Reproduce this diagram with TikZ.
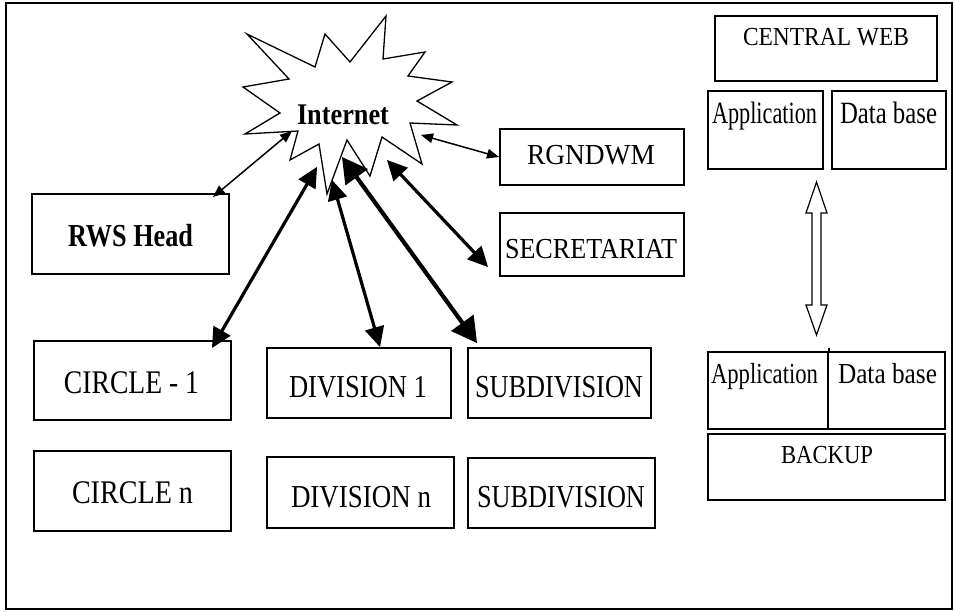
\documentclass[tikz,border=0pt]{standalone}
\usepackage{fontspec}
\setmainfont{Liberation Serif}
\usepackage{graphicx}
\usetikzlibrary{calc}
\newcommand{\lbl}[3]{\fontsize{#1}{#1}\selectfont\resizebox{#2pt}{\height}{#3}}
% double-headed link: ends, line width, head length, head half width
\newcommand{\dlink}[5]{%
  \draw[line width=#3pt,shorten <=#4pt-1pt,shorten >=#4pt-1pt] (#1) -- (#2);
  \fill[line join=miter] (#1) -- ($(#1)!#4pt!(#2)!#5pt!90:(#2)$) -- ($(#1)!#4pt!(#2)!#5pt!-90:(#2)$) -- cycle;
  \fill[line join=miter] (#2) -- ($(#2)!#4pt!(#1)!#5pt!90:(#1)$) -- ($(#2)!#4pt!(#1)!#5pt!-90:(#1)$) -- cycle;}
\begin{document}
\begin{tikzpicture}[x=1pt,y=-1pt,
  box/.style={draw,line width=1.6pt,inner sep=0pt},
  txt/.style={anchor=base,inner sep=0pt},
  openarrow/.style={draw,line width=1.2pt,fill=white,line join=miter}
]
\useasboundingbox (0,0) rectangle (954,611);
% outer frame
\draw[line width=2pt] (6,2.5) rectangle (952,609);

% Internet starburst
\draw[line width=1.3pt,fill=white,line join=miter]
  (247,34) -- (315,67) -- (325,34) -- (350,62) -- (386,16) -- (383,59)
  -- (425,52) -- (408,76) -- (452,82) -- (417,101) -- (457,125) -- (410,123)
  -- (422,164) -- (382,137) -- (370,176) -- (347,140) -- (327,194) -- (319,144)
  -- (290,160) -- (298,131) -- (245,134) -- (280,113) -- (243,87) -- (289,79) -- cycle;
\node[txt] (inet) at (343,124) {\bfseries\lbl{30}{92}{Internet}};

% boxes
\node[box,minimum width=197pt,minimum height=80pt] (rws) at (130.5,234) {};
\node[txt] at (130.5,246) {\bfseries\lbl{32}{125}{RWS Head}};

\node[box,minimum width=184pt,minimum height=56pt] (rg) at (592,157) {};
\node[txt] at (591,164) {\lbl{29}{128}{RGNDWM}};

\node[box,minimum width=184pt,minimum height=63pt] (sec) at (592,244.5) {};
\node[txt] at (591,258) {\lbl{29}{172}{SECRETARIAT}};

\node[box,minimum width=197pt,minimum height=79pt] (c1) at (132.5,380.5) {};
\node[txt] at (131.5,393) {\lbl{33}{135}{CIRCLE - 1}};

\node[box,minimum width=197pt,minimum height=80pt] (cn) at (132.5,491) {};
\node[txt] at (132.5,503) {\lbl{33}{121}{CIRCLE n}};

\node[box,minimum width=184pt,minimum height=70pt] (d1) at (359,383) {};
\node[txt] at (358,397) {\lbl{32}{138}{DIVISION 1}};

\node[box,minimum width=187pt,minimum height=71pt] (dn) at (360.5,492.5) {};
\node[txt] at (361,507) {\lbl{32}{140}{DIVISION n}};

\node[box,minimum width=183pt,minimum height=70pt] (s1) at (559.5,383) {};
\node[txt] at (559,397) {\lbl{32}{168}{SUBDIVISION}};

\node[box,minimum width=187pt,minimum height=70pt] (sn) at (561.5,493) {};
\node[txt] at (561,507) {\lbl{32}{168}{SUBDIVISION}};

% central web
\node[box,minimum width=222pt,minimum height=65pt] (cw) at (826,48.5) {};
\node[txt] at (826,45) {\lbl{26}{166}{CENTRAL WEB}};
\node[box,minimum width=115pt,minimum height=78pt] (app1) at (765.5,130) {};
\node[txt] at (764.5,123) {\lbl{31}{105}{Application}};
\node[box,minimum width=114pt,minimum height=78pt] (db1) at (889,130) {};
\node[txt] at (888.5,123) {\lbl{31}{97}{Data base}};

% backup
\node[box,minimum width=120pt,minimum height=77pt] (app2) at (768,390.5) {};
\node[txt] at (764.5,383) {\lbl{29}{107}{Application}};
\node[box,minimum width=117pt,minimum height=77pt] (db2) at (886.5,390.5) {};
\node[txt] at (887.5,383) {\lbl{29}{99}{Data base}};
\draw[line width=1.6pt] (app2.north east) -- ++(0,-3);
\node[box,minimum width=237pt,minimum height=66pt] (bk) at (826.5,467) {};
\node[txt] at (827,463) {\lbl{26}{92}{BACKUP}};

% open double arrow between central web and backup
\coordinate (up) at (816.5,182);
\coordinate (dw) at (816.5,335);
\draw[openarrow] (up) -- ++(10.5,31) -- ++(-6,0) -- ++(0,92) -- ++(6,0) -- (dw)
  -- ++(-10.5,-30) -- ++(6,0) -- ++(0,-92) -- ++(-6,0) -- cycle;

% connector ends
\coordinate (iR) at (292,131);  \coordinate (eR) at (213,197);
\coordinate (iG) at (421,135);  \coordinate (eG) at (499,157);
\coordinate (iS) at (387,160);  \coordinate (eS) at (488,267);
\coordinate (iC) at (317,167);  \coordinate (eC) at (212,348);
\coordinate (iD) at (332,180);  \coordinate (eD) at (380,347);
\coordinate (iB) at (342,157);  \coordinate (eB) at (477,343);

\dlink{iR}{eR}{1.5}{12}{5}
\dlink{iG}{eG}{1.5}{12}{5}
\dlink{iS}{eS}{3.2}{20}{10}
\dlink{iC}{eC}{3.2}{20}{10}
\dlink{iD}{eD}{3.2}{20}{10}
\dlink{iB}{eB}{4.2}{25}{14}
\end{tikzpicture}
\end{document}
